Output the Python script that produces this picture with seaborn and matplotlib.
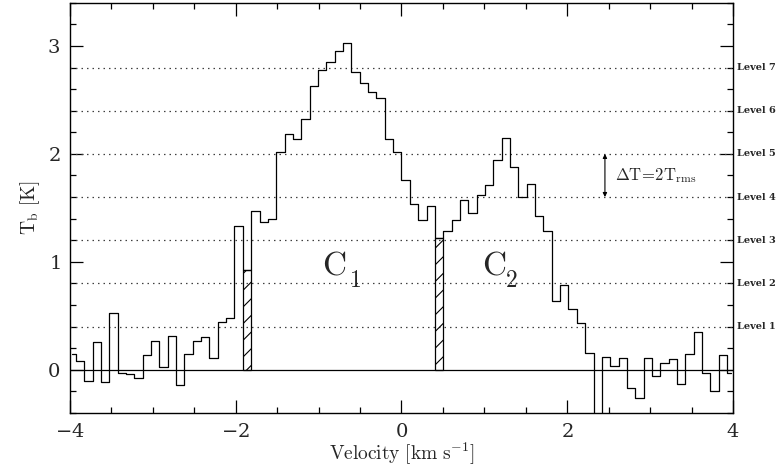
import numpy as np
import pandas as pd
import matplotlib
matplotlib.use('Agg')
import matplotlib.pyplot as plt
import matplotlib.transforms as mtransforms
from matplotlib.ticker import MultipleLocator
import seaborn as sns

# channel centres of the spectrum (km/s), 80 channels across the window
velocity = np.linspace(-3.98, 3.98, 80)
tb = [0.145, 0.086, -0.105, 0.255, -0.117, 0.53, -0.03, -0.04, -0.074, 0.135,
      0.265, 0.03, 0.317, -0.145, 0.148, 0.27, 0.30, 0.105, 0.446, 0.48,
      1.33, 0.92, 1.47, 1.37, 1.40, 2.02, 2.18, 2.14, 2.32, 2.63,
      2.78, 2.855, 2.95, 3.03, 2.76, 2.66, 2.57, 2.52, 2.14, 2.02,
      1.76, 1.54, 1.385, 1.52, 1.22, 1.29, 1.39, 1.575, 1.455, 1.62,
      1.71, 1.94, 2.145, 1.88, 1.60, 1.72, 1.42, 1.29, 0.64, 0.79,
      0.56, 0.43, 0.16, -0.6, 0.123, 0.037, 0.105, -0.166, -0.26, 0.105,
      -0.06, 0.06, 0.10, -0.13, 0.148, 0.354, -0.025, -0.2, 0.14, -0.025]
hatched_channels = [21, 44]   # channels separating the two components
levels = [0.4, 0.8, 1.2, 1.6, 2.0, 2.4, 2.8]
level_labels = ['Level 1', 'Level 2', 'Level 3', 'Level 4', 'Level 5', 'Level 6', 'Level 7']

spec = pd.DataFrame({'v': velocity, 'tb': tb})
dv = velocity[1] - velocity[0]

sns.set_theme(style='ticks')
plt.rcParams['font.family'] = ['DejaVu Serif']
plt.rcParams['mathtext.fontset'] = 'cm'
plt.rcParams['axes.formatter.use_mathtext'] = True
plt.rcParams['hatch.linewidth'] = 0.8

fig = plt.figure(figsize=(7.82, 4.69), dpi=100)
ax = fig.add_axes([0.0895, 0.1194, 0.8478, 0.8748])

# contour levels
for lv in levels:
    ax.axhline(lv, color='0.25', lw=0.9, ls=(0, (1.2, 3.2)), zorder=1)
ax.axhline(0, color='black', lw=0.9, zorder=2)

sns.lineplot(data=spec, x='v', y='tb', drawstyle='steps-mid', color='black',
             lw=0.9, ax=ax, zorder=3, estimator=None)

for ch in hatched_channels:
    ax.bar(velocity[ch], tb[ch], width=dv, fill=False, hatch='//',
           edgecolor='black', lw=0.9, zorder=4)

ax.set_xlim(-4, 4)
ax.set_ylim(-0.4, 3.4)
ax.xaxis.set_major_locator(MultipleLocator(2))
ax.xaxis.set_minor_locator(MultipleLocator(0.5))
ax.yaxis.set_major_locator(MultipleLocator(1))
ax.yaxis.set_minor_locator(MultipleLocator(0.2))
ax.tick_params(which='both', direction='in', top=True, right=True,
               labelsize=14, width=0.9, color='black')
ax.tick_params(which='major', length=9.5, pad=7)
ax.tick_params(which='minor', length=4.5)
for s in ax.spines.values():
    s.set_linewidth(1.0)
    s.set_color('black')

ax.set_xlabel(r'$\mathrm{Velocity\ [km\ s^{-1}]}$', fontsize=14, labelpad=0)
ax.set_ylabel(r'$\mathrm{T_b\ [K]}$', fontsize=14, labelpad=4)

trans = mtransforms.blended_transform_factory(ax.transAxes, ax.transData)
for lv, lab in zip(levels, level_labels):
    ax.text(1.006, lv, lab, transform=trans, fontsize=7, fontweight='bold',
            va='center', ha='left')

# component labels, subscript set lower as in the original
ax.text(-0.96, 0.88, r'$\mathrm{C}$', fontsize=24, ha='left', va='baseline')
ax.text(-0.63, 0.77, r'$1$', fontsize=17, ha='left', va='baseline')
ax.text(0.97, 0.88, r'$\mathrm{C}$', fontsize=24, ha='left', va='baseline')
ax.text(1.25, 0.77, r'$2$', fontsize=17, ha='left', va='baseline')

ax.annotate('', xy=(2.455, 2.0), xytext=(2.455, 1.6),
            arrowprops=dict(arrowstyle='<|-|>', lw=0.8, color='black',
                            mutation_scale=6, shrinkA=0, shrinkB=0))
ax.text(2.575, 1.8, r'$\mathrm{\Delta T\!=\!2T_{rms}}$', fontsize=12, va='center', ha='left')

fig.savefig('out.png', dpi=100)
